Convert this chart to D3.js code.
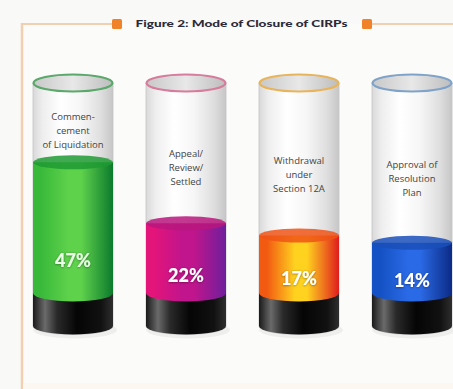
<!DOCTYPE html>
<html>
<head>
<meta charset="utf-8">
<script src="https://cdn.jsdelivr.net/npm/d3@7/dist/d3.min.js"></script>
<style>
  html, body { margin: 0; padding: 0; background: #f9f9f7; }
  svg { display: block; }
</style>
</head>
<body>
<svg id="chart" width="453" height="389"></svg>
<script>
// Mode of closure of CIRPs, share of closed cases
const categories = ["Commencement of Liquidation", "Appeal/Review/Settled", "Withdrawal under Section 12A", "Approval of Resolution Plan"];
const labelLines = [["Commen-", "cement", "of Liquidation"], ["Appeal/", "Review/", "Settled"], ["Withdrawal", "under", "Section 12A"], ["Approval of", "Resolution", "Plan"]];
const shares = [47, 22, 17, 14];
const shareLabels = ["47%", "22%", "17%", "14%"];
const titleText = "Figure 2: Mode of Closure of CIRPs";

// liquid colour stops (left, centre, right) and rim colour per tube
const liquidStops = [
  ["#39b93a", "#5fd24c", "#0c7a2c"],
  ["#e3147a", "#c0158c", "#6e1f9c"],
  ["#f25a12", "#ffd21f", "#e01d1d"],
  ["#1451c4", "#2b6ae6", "#0b2a86"]
];
const liquidTopColor = ["#1f9a32", "#b8167e", "#ee5416", "#1a4fb8"];
const rimColor = ["#5aa86a", "#d77c9c", "#e8b45a", "#7fa3c8"];

const svg = d3.select("#chart");
const W = 453, H = 389;

// background frame
svg.append("rect").attr("width", W).attr("height", H).attr("fill", "#f9f9f7");
svg.append("rect").attr("x", 22).attr("y", 24).attr("width", W - 22).attr("height", H - 24).attr("fill", "#fbfbfa");
const frameColor = "#f2cfaf";
svg.append("line").attr("x1", 22).attr("y1", 24).attr("x2", 113).attr("y2", 24).attr("stroke", frameColor).attr("stroke-width", 2);
svg.append("line").attr("x1", 372).attr("y1", 24).attr("x2", W).attr("y2", 24).attr("stroke", frameColor).attr("stroke-width", 2);
svg.append("line").attr("x1", 22).attr("y1", 23).attr("x2", 22).attr("y2", H).attr("stroke", frameColor).attr("stroke-width", 2.5);
svg.append("rect").attr("x", 23).attr("y", 383).attr("width", W).attr("height", 6).attr("fill", "#fcf7f1");

// title with square markers
svg.append("rect").attr("x", 112).attr("y", 19).attr("width", 10).attr("height", 10).attr("rx", 1.5).attr("fill", "#f0822a");
svg.append("rect").attr("x", 362).attr("y", 19).attr("width", 10).attr("height", 10).attr("rx", 1.5).attr("fill", "#f0822a");
svg.append("text").attr("x", 241.5).attr("y", 27)
  .attr("text-anchor", "middle")
  .attr("font-family", "Lato, 'Open Sans', sans-serif")
  .attr("font-weight", "900").attr("font-size", 10)
  .attr("fill", "#2b2b3a")
  .attr("textLength", 212).attr("lengthAdjust", "spacingAndGlyphs")
  .text(titleText);

// scales
const x = d3.scaleBand().domain(categories).range([33, 452]).paddingInner(0.292).paddingOuter(0);
const y = d3.scaleLinear().domain([0, 50]).range([277, 155]);

const bw = x.bandwidth();
const rx = bw / 2, ry = 8.5;
const rimY = 83;       // centre of the open top
const baseTop = 293;   // top of the dark base
const baseBot = 326;   // centre of the bottom curve
const lineGap = 14;

const defs = svg.append("defs");

// glass body gradient
const glass = defs.append("linearGradient").attr("id", "glass").attr("x1", 0).attr("x2", 1);
[[0, "#d9d9d9"], [0.12, "#eeeeee"], [0.35, "#ffffff"], [0.6, "#f6f6f6"], [0.85, "#dedede"], [1, "#c6c6c6"]]
  .forEach(([o, c]) => glass.append("stop").attr("offset", o).attr("stop-color", c));
const inner = defs.append("linearGradient").attr("id", "inner").attr("x1", 0).attr("x2", 1);
[[0, "#c8c8c8"], [0.5, "#e8e8e8"], [1, "#bdbdbd"]]
  .forEach(([o, c]) => inner.append("stop").attr("offset", o).attr("stop-color", c));
const base = defs.append("linearGradient").attr("id", "base").attr("x1", 0).attr("x2", 1);
[[0, "#1a1a1a"], [0.15, "#6a6a6a"], [0.3, "#2a2a2a"], [0.55, "#050505"], [0.85, "#111"], [1, "#2e2e2e"]]
  .forEach(([o, c]) => base.append("stop").attr("offset", o).attr("stop-color", c));
liquidStops.forEach((s, i) => {
  const g = defs.append("linearGradient").attr("id", "liq" + i).attr("x1", 0).attr("x2", 1);
  [[0, s[0]], [0.1, s[0]], [0.45, s[1]], [0.6, s[1]], [1, s[2]]]
    .forEach(([o, c]) => g.append("stop").attr("offset", o).attr("stop-color", c));
});
const shadow = defs.append("filter").attr("id", "txtshadow").attr("x", "-20%").attr("y", "-30%").attr("width", "140%").attr("height", "160%");
shadow.append("feDropShadow").attr("dx", 0).attr("dy", 0.5).attr("stdDeviation", 0.8).attr("flood-color", "#000").attr("flood-opacity", 0.45);

const tubes = svg.selectAll("g.tube").data(categories).join("g").attr("class", "tube");

tubes.each(function (cat, i) {
  const g = d3.select(this);
  const x0 = x(cat), x1 = x0 + bw, cx = x0 + rx;
  const top = y(shares[i]);

  // soft ground shadow
  g.append("ellipse").attr("cx", cx + 2).attr("cy", baseBot + 4).attr("rx", rx + 2).attr("ry", ry)
    .attr("fill", "#000").attr("opacity", 0.05);

  // glass tube body
  g.append("path")
    .attr("d", `M${x0},${rimY} L${x0},${baseBot} A${rx},${ry} 0 0 0 ${x1},${baseBot} L${x1},${rimY} Z`)
    .attr("fill", "url(#glass)").attr("stroke", "#c4c4c4").attr("stroke-width", 0.8);

  // dark base
  g.append("path")
    .attr("d", `M${x0},${baseTop} L${x0},${baseBot} A${rx},${ry} 0 0 0 ${x1},${baseBot} L${x1},${baseTop} Z`)
    .attr("fill", "url(#base)");

  // liquid column
  g.append("path")
    .attr("d", `M${x0},${top} L${x0},${baseTop} A${rx},${ry} 0 0 0 ${x1},${baseTop} L${x1},${top} Z`)
    .attr("fill", `url(#liq${i})`);
  g.append("ellipse").attr("cx", cx).attr("cy", top).attr("rx", rx).attr("ry", ry - 1.5)
    .attr("fill", liquidTopColor[i]).attr("opacity", 0.85);

  // open top rim
  g.append("ellipse").attr("cx", cx).attr("cy", rimY).attr("rx", rx - 0.5).attr("ry", ry)
    .attr("fill", "url(#inner)").attr("stroke", rimColor[i]).attr("stroke-width", 2.2);

  // category label inside the empty glass
  const lines = labelLines[i];
  const mid = rimY + (top - rimY) * 0.6;
  const startY = mid - (lines.length - 1) * lineGap / 2;
  g.append("text")
    .attr("text-anchor", "middle")
    .attr("font-family", "'Open Sans', 'Noto Sans', sans-serif")
    .attr("font-size", 9.5).attr("fill", "#444")
    .selectAll("tspan").data(lines).join("tspan")
    .attr("x", cx).attr("y", (d, k) => startY + k * lineGap)
    .attr("dy", "0.35em")
    .text(d => d);

  // share label
  g.append("text")
    .attr("x", cx).attr("y", top + (baseTop - top) * 0.75)
    .attr("dy", "0.36em")
    .attr("text-anchor", "middle")
    .attr("font-family", "Lato, 'Open Sans', sans-serif")
    .attr("font-weight", "900").attr("font-size", 18)
    .attr("fill", i === 0 ? "#e9ffe6" : "#ffffff")
    .attr("filter", "url(#txtshadow)")
    .text(shareLabels[i]);
});
</script>
</body>
</html>
